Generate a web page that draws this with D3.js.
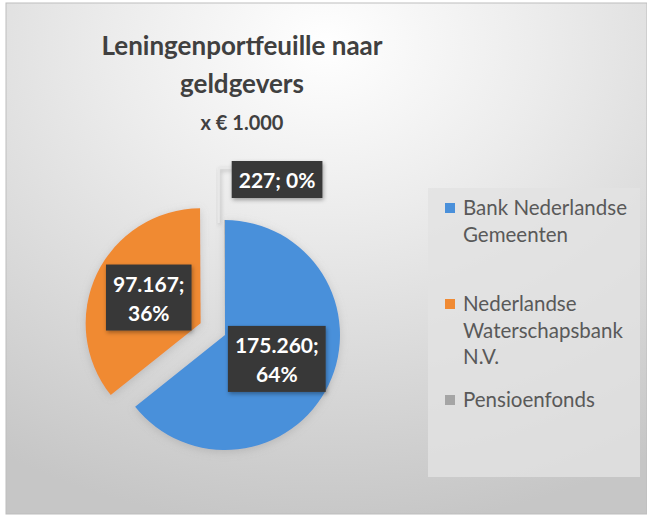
<!DOCTYPE html>
<html>
<head>
<meta charset="utf-8">
<script src="https://cdn.jsdelivr.net/npm/d3@7"></script>
<style>
  body { margin: 0; background: #fff; }
  svg { display: block; font-family: Lato, "Open Sans", sans-serif; }
</style>
</head>
<body>
<div id="chart"></div>
<script>
// data
var categories = ["Bank Nederlandse Gemeenten", "Nederlandse Waterschapsbank N.V.", "Pensioenfonds"];
var legendLines = [["Bank Nederlandse", "Gemeenten"], ["Nederlandse", "Waterschapsbank", "N.V."], ["Pensioenfonds"]];
var values = [175260, 97167, 227];
var colors = ["#4a90da", "#f08a33", "#a5a5a5"];
var titleLines = ["Leningenportfeuille naar", "geldgevers"];
var subtitle = "x \u20ac 1.000";

var width = 647, height = 515;
var cx = 225, cy = 335, r = 115;

var nl = d3.formatLocale({decimal: ",", thousands: ".", grouping: [3], currency: ["\u20ac", ""]});
var fmt = nl.format(",d");

var svg = d3.select("#chart").append("svg")
  .attr("width", width).attr("height", height);

var defs = svg.append("defs");
var bg = defs.append("radialGradient").attr("id", "bg")
  .attr("cx", "0.5").attr("cy", "0.08").attr("r", "0.95")
  .attr("gradientUnits", "objectBoundingBox");
bg.append("stop").attr("offset", "0").attr("stop-color", "#ffffff");
bg.append("stop").attr("offset", "0.35").attr("stop-color", "#ececec");
bg.append("stop").attr("offset", "1").attr("stop-color", "#c6c6c6");

var shadow = defs.append("filter").attr("id", "shadow")
  .attr("x", "-20%").attr("y", "-20%").attr("width", "140%").attr("height", "140%");
shadow.append("feDropShadow").attr("dx", 1).attr("dy", 2).attr("stdDeviation", 2)
  .attr("flood-color", "#000").attr("flood-opacity", 0.35);

var glow = defs.append("filter").attr("id", "glow")
  .attr("x", "-20%").attr("y", "-20%").attr("width", "140%").attr("height", "140%");
glow.append("feDropShadow").attr("dx", 0).attr("dy", 2).attr("stdDeviation", 4)
  .attr("flood-color", "#888").attr("flood-opacity", 0.35);

// chart area
svg.append("rect")
  .attr("x", 6).attr("y", 3).attr("width", width - 6).attr("height", 511)
  .attr("fill", "url(#bg)").attr("stroke", "#bdbdbd").attr("stroke-width", 1);

// title
var title = svg.append("text").attr("text-anchor", "middle")
  .attr("fill", "#404040").attr("font-weight", 700);
title.selectAll("tspan").data(titleLines).enter().append("tspan")
  .attr("x", 242).attr("y", function(d, i){ return 55 + i * 38 })
  .attr("font-size", 26)
  .text(function(d){ return d });
svg.append("text").attr("text-anchor", "middle")
  .attr("x", 242).attr("y", 130)
  .attr("fill", "#404040").attr("font-weight", 700).attr("font-size", 20)
  .text(subtitle);

// pie
var total = d3.sum(values);
var pie = d3.pie().sort(null)(values);
var arc = d3.arc().innerRadius(0).outerRadius(r);
var explode = [0, 27, 0];

var g = svg.append("g").attr("transform", `translate(${cx},${cy})`);

function offset(d, i) {
  var a = (d.startAngle + d.endAngle) / 2;
  return [Math.sin(a) * explode[i], -Math.cos(a) * explode[i]];
}

g.selectAll("path.slice").data(pie).enter().append("path")
  .attr("class", "slice")
  .attr("d", arc)
  .attr("transform", function(d, i){ var o = offset(d, i); return `translate(${o[0]},${o[1]})` })
  .attr("fill", function(d, i){ return colors[i] })
  .attr("filter", "url(#glow)");

// leader line for the small slice
var small = pie[2];
var sa = (small.startAngle + small.endAngle) / 2;
var lx = Math.sin(sa) * r - 6, ly = -Math.cos(sa) * r;
g.append("path")
  .attr("d", `M${lx},${ly + 3}V${ly - 52}H${lx + 13}`)
  .attr("fill", "none").attr("stroke", "#e8e8e8").attr("stroke-width", 1.5)
  .attr("filter", "url(#shadow)");

// data labels
function label(lines, x, y, anchorLeft) {
  var lab = g.append("g");
  var box = lab.append("rect").attr("fill", "#393939").attr("filter", "url(#shadow)");
  var t = lab.append("text").attr("fill", "#fff").attr("font-weight", 700)
    .attr("font-size", 21).attr("text-anchor", "middle");
  t.selectAll("tspan").data(lines).enter().append("tspan")
    .attr("x", 0).attr("y", function(d, i){ return i * 29 })
    .text(function(d){ return d });
  var w = d3.max(t.selectAll("tspan").nodes(), function(n){ return n.getComputedTextLength() }) + 14;
  var h = lines.length * 29 + 8;
  box.attr("x", -w / 2).attr("y", -h / 2).attr("width", w).attr("height", h);
  t.attr("transform", `translate(0,${-h / 2 + 27})`);
  var px = anchorLeft ? x + w / 2 : x;
  var py = anchorLeft ? y - 7 + h / 2 : y;
  lab.attr("transform", `translate(${px},${py})`);
}

pie.forEach(function(d, i){
  var pct = Math.round(d.data / total * 100) + "%";
  var txt = fmt(d.data) + ";";
  if (i < 2) {
    var c = arc.centroid(d), o = offset(d, i);
    label([txt, pct], c[0] + o[0], c[1] + o[1] - 1, false);
  } else {
    label([txt + " " + pct], lx + 13, ly - 52, true);
  }
});

// legend
var leg = svg.append("g");
leg.append("rect").attr("x", 428).attr("y", 188).attr("width", 212).attr("height", 289)
  .attr("fill", "#e2e2e2").attr("opacity", 0.8);
var item = leg.selectAll("g.item").data(legendLines).enter().append("g")
  .attr("class", "item")
  .attr("transform", function(d, i){ return `translate(445,${215 + i * 96})` });
item.append("rect").attr("x", 0).attr("y", -12).attr("width", 10).attr("height", 10)
  .attr("fill", function(d, i){ return colors[i] });
item.append("text").attr("fill", "#595959").attr("font-size", 20.5)
  .selectAll("tspan").data(function(d){ return d }).enter().append("tspan")
  .attr("x", 18).attr("y", function(d, i){ return i * 26.5 })
  .text(function(d){ return d });
</script>
</body>
</html>
